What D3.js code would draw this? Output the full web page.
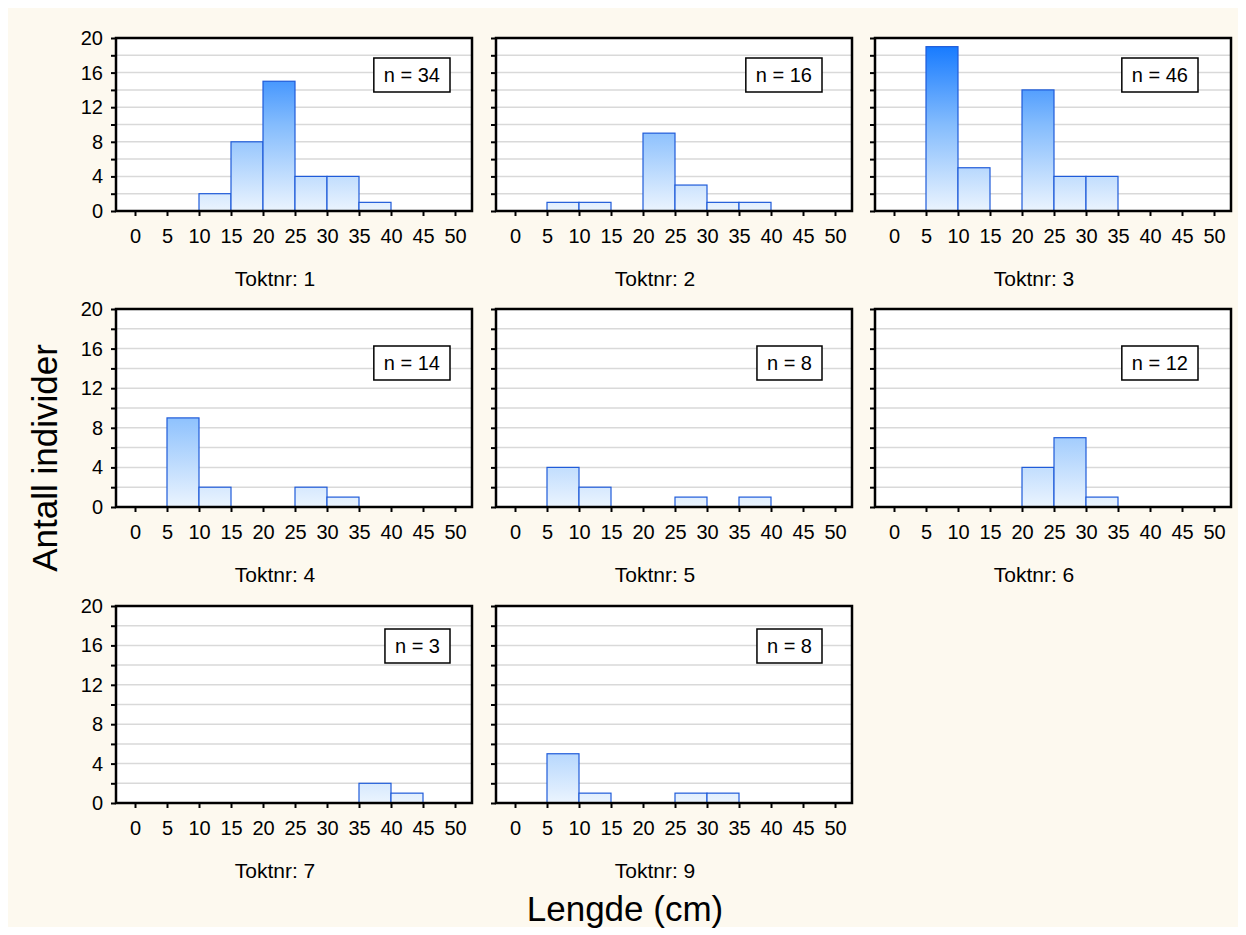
<!DOCTYPE html>
<html><head><meta charset="utf-8">
<script src="https://cdn.jsdelivr.net/npm/d3@7"></script>
<style>html,body{margin:0;padding:0;background:#fff;}svg{display:block;}</style>
</head><body>
<script>
// ---- data ----
const binStarts = [0, 5, 10, 15, 20, 25, 30, 35, 40, 45];
const xTicks = [0, 5, 10, 15, 20, 25, 30, 35, 40, 45, 50];
const yTicks = [0, 4, 8, 12, 16, 20];
const panelTitles = ["Toktnr: 1", "Toktnr: 2", "Toktnr: 3", "Toktnr: 4", "Toktnr: 5", "Toktnr: 6", "Toktnr: 7", "Toktnr: 9"];
const nValues = [34, 16, 46, 14, 8, 12, 3, 8];
const counts1 = [0, 0, 2, 8, 15, 4, 4, 1, 0, 0];
const counts2 = [0, 1, 1, 0, 9, 3, 1, 1, 0, 0];
const counts3 = [0, 19, 5, 0, 14, 4, 4, 0, 0, 0];
const counts4 = [0, 9, 2, 0, 0, 2, 1, 0, 0, 0];
const counts5 = [0, 4, 2, 0, 0, 1, 0, 1, 0, 0];
const counts6 = [0, 0, 0, 0, 4, 7, 1, 0, 0, 0];
const counts7 = [0, 0, 0, 0, 0, 0, 0, 2, 1, 0];
const counts9 = [0, 5, 1, 0, 0, 1, 1, 0, 0, 0];
const allCounts = [counts1, counts2, counts3, counts4, counts5, counts6, counts7, counts9];
const xTitle = "Lengde (cm)";
const yTitle = "Antall individer";

// ---- layout ----
const W = 1246, H = 935;
const FONT = "Arial, 'Liberation Sans', sans-serif";
const colLeft = [116, 496, 875];
const rowTop = [38, 309, 606];
const rowBottom = [211, 507, 803];
const boxTopOff = [20, 37, 23];
const boxRightOff = [334, 326, 323];
const panelW = 356;

const svg = d3.select("body").append("svg").attr("width", W).attr("height", H);
svg.append("rect").attr("width", W).attr("height", H).attr("fill", "#ffffff");
svg.append("rect").attr("x", 8).attr("y", 8).attr("width", 1230).attr("height", 919).attr("fill", "#fdf9ef");

const defs = svg.append("defs");

allCounts.forEach((counts, i) => {
  const r = Math.floor(i / 3), c = i % 3;
  const left = colLeft[c], top = rowTop[r], bottom = rowBottom[r], right = left + panelW;
  const x = d3.scaleLinear().domain([0, 50]).range([left + 19, left + 339]);
  const y = d3.scaleLinear().domain([0, 20]).range([bottom, top]);

  const gid = "grad" + i;
  const grad = defs.append("linearGradient").attr("id", gid)
    .attr("gradientUnits", "userSpaceOnUse")
    .attr("x1", 0).attr("x2", 0).attr("y1", y(0)).attr("y2", y(20));
  grad.append("stop").attr("offset", "0").attr("stop-color", "#ebf4fe");
  grad.append("stop").attr("offset", "0.5").attr("stop-color", "#84bcfd");
  grad.append("stop").attr("offset", "1").attr("stop-color", "#0c74ff");

  const g = svg.append("g");
  g.append("rect").attr("x", left).attr("y", top).attr("width", panelW).attr("height", bottom - top).attr("fill", "#ffffff");

  // gridlines
  g.selectAll("line.grid").data(d3.range(2, 20, 2)).join("line")
    .attr("x1", left).attr("x2", right)
    .attr("y1", d => y(d)).attr("y2", d => y(d))
    .attr("stroke", "#d9d9d9").attr("stroke-width", 1.5);

  // bars
  const bins = binStarts.map((s, k) => ({ x0: s, x1: s + 5, v: counts[k] })).filter(d => d.v > 0);
  g.selectAll("rect.bar").data(bins).join("rect")
    .attr("x", d => x(d.x0)).attr("width", d => x(d.x1) - x(d.x0))
    .attr("y", d => y(d.v)).attr("height", d => y(0) - y(d.v))
    .attr("fill", `url(#${gid})`).attr("stroke", "#1f5bd9").attr("stroke-width", 1.2);

  // y axis (labels only on the first column)
  const ya = g.append("g").attr("transform", `translate(${left},0)`)
    .call(d3.axisLeft(y).tickValues(d3.range(0, 21, 2)).tickSize(5).tickPadding(8)
      .tickFormat(d => (c === 0 && yTicks.includes(d)) ? d : ""));
  ya.select(".domain").remove();
  ya.selectAll("line").attr("stroke", "#000").attr("stroke-width", 2);
  ya.selectAll("text").attr("font-family", FONT).attr("font-size", 20).attr("fill", "#000");

  // x axis
  const xa = g.append("g").attr("transform", `translate(0,${bottom})`)
    .call(d3.axisBottom(x).tickValues(xTicks).tickSize(5).tickPadding(13));
  xa.select(".domain").remove();
  xa.selectAll("line").attr("stroke", "#000").attr("stroke-width", 2);
  xa.selectAll("text").attr("font-family", FONT).attr("font-size", 20).attr("fill", "#000");

  // frame
  g.append("rect").attr("x", left).attr("y", top).attr("width", panelW).attr("height", bottom - top)
    .attr("fill", "none").attr("stroke", "#000").attr("stroke-width", 2.5);

  // n box
  const label = "n = " + nValues[i];
  const bx = g.append("g");
  const t = bx.append("text").attr("font-family", FONT).attr("font-size", 20).attr("fill", "#000")
    .attr("text-anchor", "middle").text(label);
  const tw = t.node().getComputedTextLength();
  const bw = tw + 20, bh = 34;
  const bRight = left + boxRightOff[c];
  const bTop = top + boxTopOff[r];
  bx.insert("rect", "text").attr("x", bRight - bw).attr("y", bTop).attr("width", bw).attr("height", bh)
    .attr("fill", "#fff").attr("stroke", "#000").attr("stroke-width", 1.5);
  t.attr("x", bRight - bw / 2).attr("y", bTop + bh / 2 + 7);

  // title
  g.append("text").attr("x", left + 159).attr("y", bottom + 75)
    .attr("text-anchor", "middle").attr("font-family", FONT).attr("font-size", 21).attr("fill", "#000")
    .text(panelTitles[i]);
});

svg.append("text").attr("x", 625).attr("y", 921).attr("text-anchor", "middle")
  .attr("font-family", FONT).attr("font-size", 35).attr("fill", "#000").text(xTitle);
svg.append("text").attr("transform", "translate(57,458) rotate(-90)").attr("text-anchor", "middle")
  .attr("font-family", FONT).attr("font-size", 35).attr("fill", "#000").text(yTitle);
</script>
</body></html>
